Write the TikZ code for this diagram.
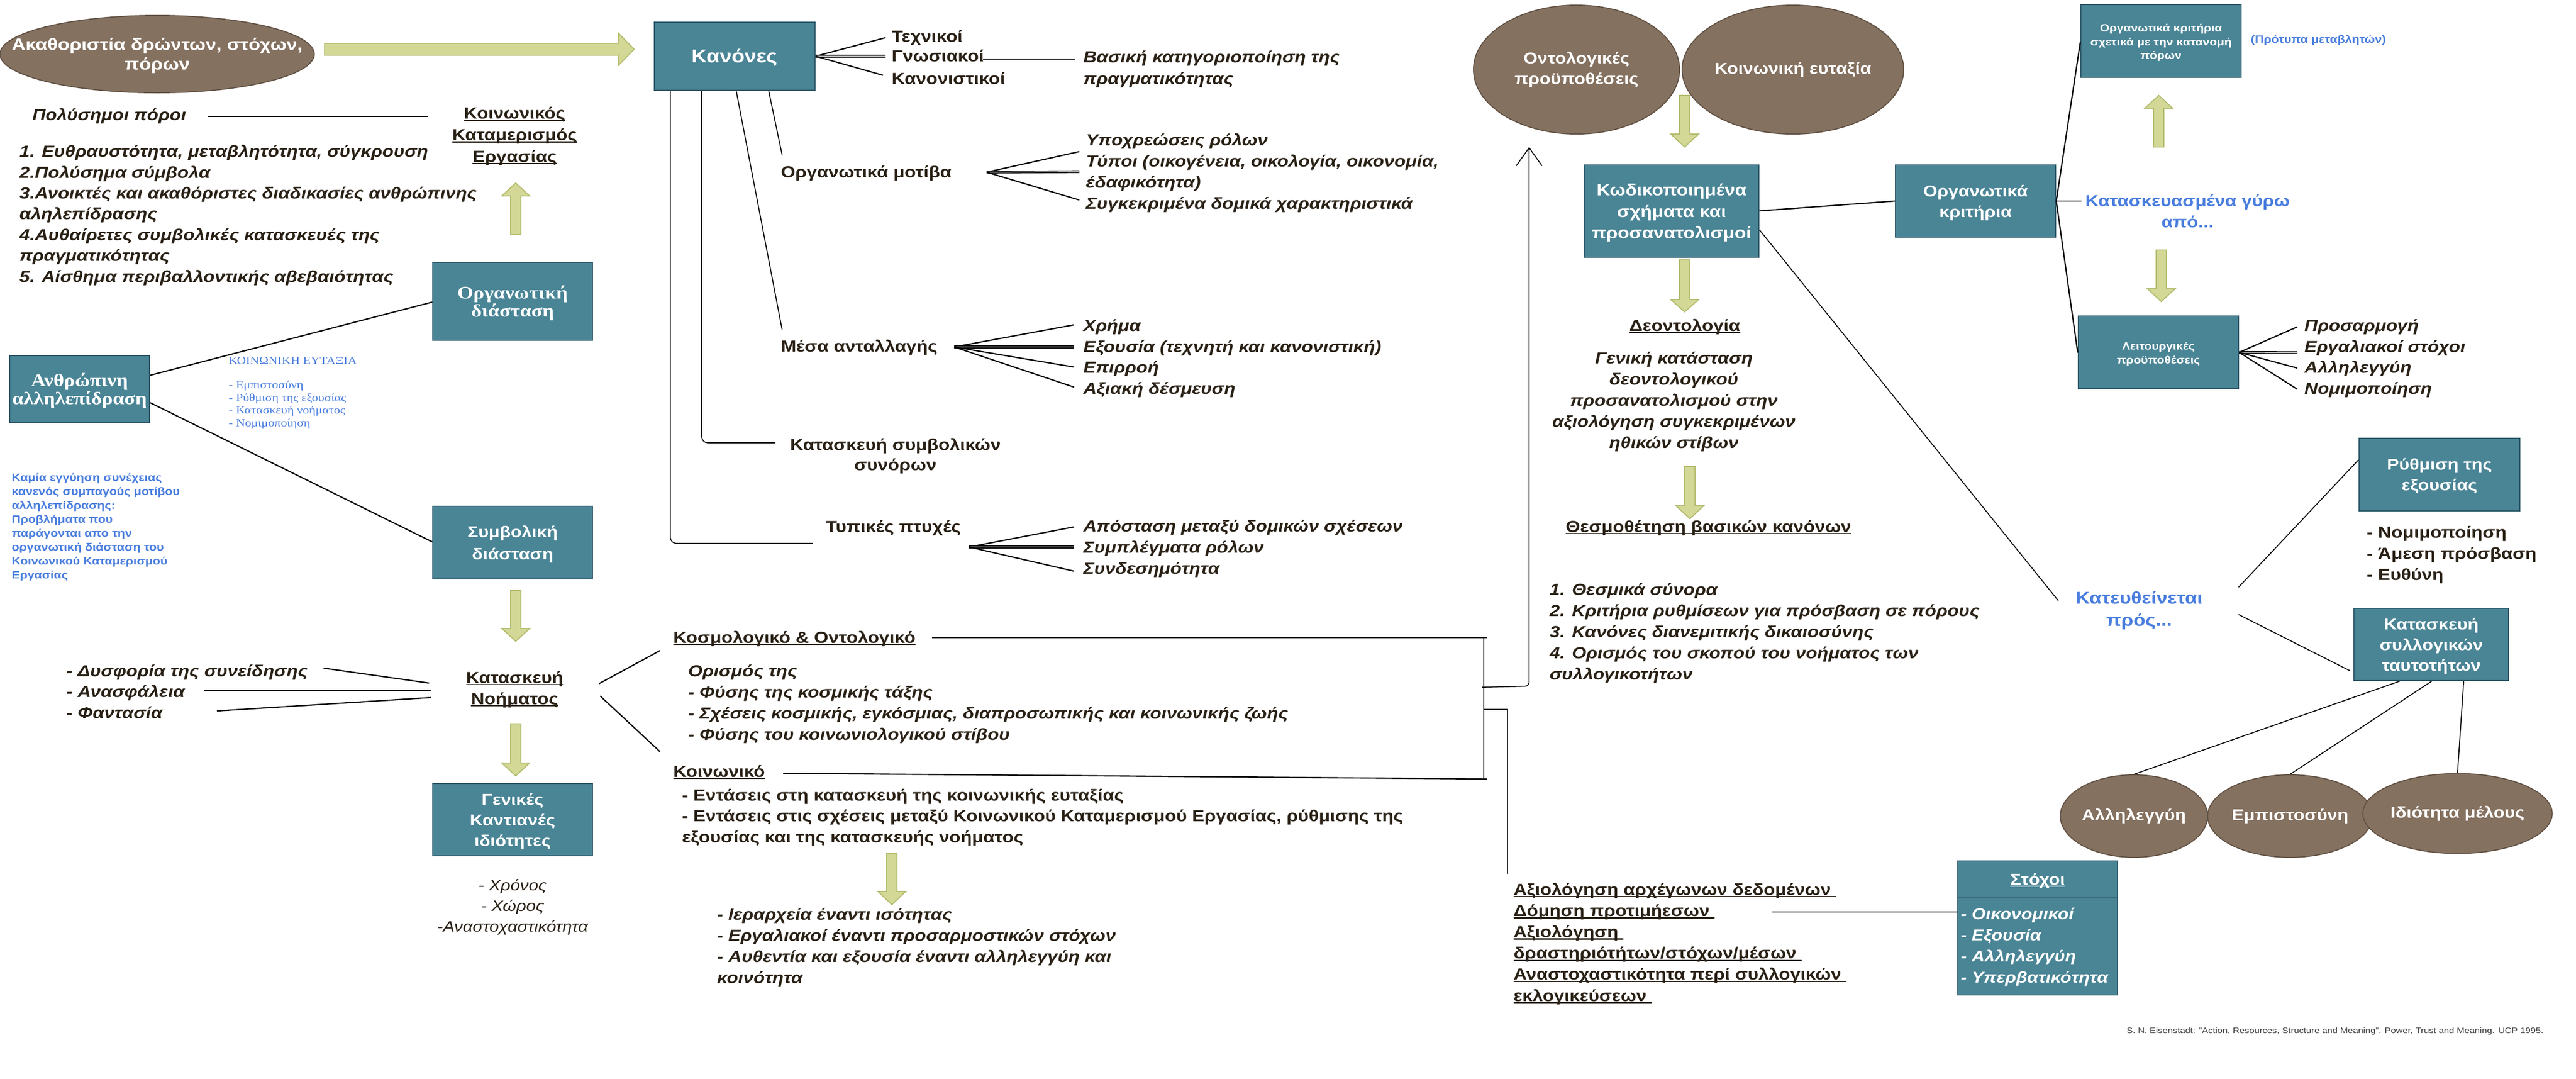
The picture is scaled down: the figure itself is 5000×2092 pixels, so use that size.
\documentclass[tikz,border=0pt]{standalone}
\usepackage{fontspec}
\setmainfont{Liberation Sans}[FakeStretch=1.15]
\newfontfamily\timesf{Liberation Serif}[FakeStretch=1.15]
\usetikzlibrary{calc,fit,arrows.meta,shapes.geometric}
\definecolor{tealA}{RGB}{74,133,150}
\definecolor{tealB}{RGB}{44,88,104}
\definecolor{brownA}{RGB}{133,113,96}
\definecolor{brownB}{RGB}{98,82,68}
\definecolor{greenA}{RGB}{211,216,150}
\definecolor{greenB}{RGB}{178,188,108}
\definecolor{ink}{RGB}{42,33,22}
\definecolor{blueA}{RGB}{74,126,222}
\newcommand\fsz[2]{\fontsize{#1}{#2}\selectfont}
\newcommand\ulx[1]{\setbox0\hbox{#1}\rlap{\vrule width\wd0 height -0.5pt depth 1.1pt}\box0}
\newcommand\BlockV[4]{\filldraw[garr] ({#1-10},#2) -- ({#1+10},#2) -- ({#1+10},#3) -- ({#1+27},#3) -- (#1,#4) -- ({#1-27},#3) -- ({#1-10},#3) -- cycle;}
\begin{document}
\begin{tikzpicture}[x=0.25pt,y=-0.25pt,
  txt/.style={inner sep=0pt, text=ink, font=\bfseries\fsz{7.8pt}{10.1pt}},
  txti/.style={inner sep=0pt, text=ink, font=\bfseries\itshape\fsz{7.8pt}{10.1pt}},
  L/.style={align=left, anchor=base west},
  C/.style={align=center, anchor=base},
  bx/.style={rectangle, draw=tealB, fill=tealA, line width=0.6pt, inner sep=0pt},
  bxl/.style={inner sep=0pt, text=white, align=center, anchor=center, yshift=-0.8pt, font=\bfseries\fsz{7.6pt}{10pt}},
  bxls/.style={bxl, font=\bfseries\fsz{5.1pt}{6.6pt}},
  bxlt/.style={bxl, font=\timesf\bfseries\fsz{8.6pt}{8.75pt}},
  el/.style={ellipse, draw=brownB, fill=brownA, line width=0.5pt, inner sep=0pt, text=white, align=center, font=\bfseries\fsz{7.6pt}{10pt}},
  ln/.style={draw=black, line width=0.6pt},
  lnt/.style={draw=black, line width=0.45pt},
  dbl/.style={draw=black, double=gray!60, double distance=0.5pt, line width=0.4pt},
  garr/.style={fill=greenA, draw=greenB, line width=0.5pt},
  blu/.style={inner sep=0pt, text=blueA, font=\bfseries\fsz{5.2pt}{6.75pt}},
]
\path[use as bounding box, fill=white] (0,0) rectangle (5000,2092);

% ---------------- left column
\node[el, minimum width=152.5pt, minimum height=37.5pt] (akath) at (305,105) {};
\node[bxl, yshift=0pt, font=\bfseries\fsz{8.1pt}{9.6pt}] (akathl) at (akath.center) {Ακαθοριστία δρώντων, στόχων,\\πόρων};
\filldraw[garr] (630,84) -- (1200,84) -- (1200,64) -- (1231,95.5) -- (1200,127) -- (1200,107) -- (630,107) -- cycle;
\node[bx, fit={(1270,43)(1582,175)}] (kan) {};
\node[bxl, font=\bfseries\fsz{9pt}{10pt}] (kanl) at (kan.center) {Κανόνες};

\node[txti, L] (polys) at (62,233) {Πολύσημοι πόροι};
\node[txt, C, font=\bfseries\fsz{7.8pt}{10.4pt}] (koinkat) at (999,314) {\ulx{Κοινωνικός}\\\ulx{Καταμερισμός}\\\ulx{Εργασίας}};
\draw[ln] (404,226) -- (831,226);
\node[txti, L] (list) at (37,547) {1. Ευθραυστότητα, μεταβλητότητα, σύγκρουση\\2.Πολύσημα σύμβολα\\3.Ανοικτές και ακαθόριστες διαδικασίες ανθρώπινης\\αληλεπίδρασης\\4.Αυθαίρετες συμβολικές κατασκευές της\\πραγματικότητας\\5. Αίσθημα περιβαλλοντικής αβεβαιότητας};
\BlockV{1001}{455}{380}{355}

\node[bx, fit={(840,509)(1150,660)}] (org) {};
\node[bxlt] (orgl) at (org.center) {Οργανωτική\\διάσταση};
\node[bx, fit={(19,690)(290,820)}] (anthr) {};
\node[bxlt] (anthrl) at (anthr.center) {Ανθρώπινη\\αλληλεπίδραση};
\node[bx, fit={(840,982)(1150,1123)}] (symb) {};
\node[bxl, font=\bfseries\fsz{7.6pt}{10.75pt}] (symbl) at (symb.center) {Συμβολική\\διάσταση};
\draw[ln] (anthr.east |- 0,728) -- (org.west |- 0,586);
\draw[ln] (anthr.east |- 0,781) -- (symb.west |- 0,1051);

\node[inner sep=0pt, L, text=blueA, font=\timesf\fsz{5.3pt}{6.1pt}] (eutax) at (443,827) {ΚΟΙΝΩΝΙΚΗ ΕΥΤΑΞΙΑ\\[5.65pt]- Εμπιστοσύνη\\- Ρύθμιση της εξουσίας\\- Κατασκευή νοήματος\\- Νομιμοποίηση};
\node[blu, L] (kamia) at (22,1122) {Καμία εγγύηση συνέχειας\\κανενός συμπαγούς μοτίβου\\αλληλεπίδρασης:\\Προβλήματα που\\παράγονται απο την\\οργανωτική διάσταση του\\Κοινωνικού Καταμερισμού\\Εργασίας};

\BlockV{1001}{1145}{1219}{1244}
\node[txt, C, font=\bfseries\fsz{7.8pt}{10.25pt}] (katn) at (999,1366) {\ulx{Κατασκευή}\\\ulx{Νοήματος}};
\node[txti, L] (dysf) at (128,1393) {- Δυσφορία της συνείδησης\\- Ανασφάλεια\\- Φαντασία};
\draw[ln] (628,1296) -- (833,1325);
\draw[ln] (396,1339) -- (836,1339);
\draw[ln] (421,1379) -- (837,1353);
\BlockV{1001}{1404}{1480}{1505}
\node[bx, fit={(840,1520)(1150,1660)}] (gen) {};
\node[bxl] (genl) at (gen.center) {Γενικές\\Καντιανές\\ιδιότητες};
\node[inner sep=0pt, C, text=ink, font=\itshape\fsz{7.3pt}{10pt}] (xron) at (995,1807) {- Χρόνος\\- Χώρος\\-Αναστοχαστικότητα};

% ---------------- Κανόνες branch
\node[txt, L] (texn) at (1730,81) {Τεχνικοί};
\node[txt, L] (gnos) at (1730,119) {Γνωσιακοί};
\node[txt, L] (kanon) at (1730,163) {Κανονιστικοί};
\draw[ln] (kan.east) -- (1719,73);
\draw[dbl] (kan.east) -- (1719,109);
\draw[ln] (kan.east) -- (1714,146);
\node[txti, L, font=\bfseries\itshape\fsz{7.8pt}{10.5pt}] (vas) at (2102,163) {Βασική κατηγοριοποίηση της\\πραγματικότητας};
\draw[ln] (1908,116) -- (2087,116);

\node[txt, L] (orgmot) at (1515,344) {Οργανωτικά μοτίβα};
\coordinate (fo) at (1915,334);
\draw[ln] (fo) -- (2095,294);
\draw[dbl] (fo) -- (2095,333);
\draw[ln] (fo) -- (2095,388);
\node[txti, L, font=\bfseries\itshape\fsz{7.8pt}{10.2pt}] (orgit) at (2107,405) {Υποχρεώσεις ρόλων\\Τύποι (οικογένεια, οικολογία, οικονομία,\\έδαφικότητα)\\Συγκεκριμένα δομικά χαρακτηριστικά};

\node[txt, L] (mesa) at (1515,682) {Μέσα ανταλλαγής};
\coordinate (fm) at (1852,673);
\draw[ln] (fm) -- (2085,630);
\draw[dbl] (fm) -- (2085,673);
\draw[ln] (fm) -- (2085,712);
\draw[ln] (fm) -- (2085,751);
\node[txti, L] (mesait) at (2102,764) {Χρήμα\\Εξουσία (τεχνητή και κανονιστική)\\Επιρροή\\Αξιακή δέσμευση};

\node[txt, C, font=\bfseries\fsz{7.8pt}{9.75pt}] (katsymb) at (1738,912) {Κατασκευή συμβολικών\\συνόρων};
\node[txt, L] (typ) at (1602,1032) {Τυπικές πτυχές};
\coordinate (ft) at (1881,1061);
\draw[ln] (ft) -- (2085,1022);
\draw[dbl] (ft) -- (2085,1061);
\draw[ln] (ft) -- (2085,1108);
\node[txti, L, font=\bfseries\itshape\fsz{7.8pt}{10.25pt}] (typit) at (2102,1113) {Απόσταση μεταξύ δομικών σχέσεων\\Συμπλέγματα ρόλων\\Συνδεσημότητα};

\draw[lnt] (kan.south -| 1492,0) -- (1518,300);
\draw[lnt] (kan.south -| 1429,0) -- (1518,639);
\draw[lnt, rounded corners=3pt] (kan.south -| 1362,0) -- (1362,859) -- (1505,859);
\draw[lnt, rounded corners=3pt] (kan.south -| 1301,0) -- (1301,1054) -- (1577,1054);

% ---------------- middle bottom
\node[txt, L] (kosm) at (1306,1247) {\ulx{Κοσμολογικό \& Οντολογικό}};
\node[txti, L, font=\bfseries\itshape\fsz{7.8pt}{10.2pt}] (oris) at (1335,1435) {Ορισμός της\\- Φύσης της κοσμικής τάξης\\- Σχέσεις κοσμικής, εγκόσμιας, διαπροσωπικής και κοινωνικής ζωής\\- Φύσης του κοινωνιολογικού στίβου};
\node[txt, L] (koin) at (1306,1507) {\ulx{Κοινωνικό}};
\node[txt, L] (ent) at (1323,1634) {- Εντάσεις στη κατασκευή της κοινωνικής ευταξίας\\- Εντάσεις στις σχέσεις μεταξύ Κοινωνικού Καταμερισμού Εργασίας, ρύθμισης της\\εξουσίας και της κατασκευής νοήματος};
\BlockV{1731}{1655}{1729}{1755}
\node[txti, L, font=\bfseries\itshape\fsz{7.8pt}{10.2pt}] (ier) at (1391,1907) {- Ιεραρχεία έναντι ισότητας\\- Εργαλιακοί έναντι προσαρμοστικών στόχων\\- Αυθεντία και εξουσία έναντι αλληλεγγύη και\\κοινότητα};

\draw[ln] (1163,1326) -- (1281,1262);
\draw[ln] (1165,1350) -- (1281,1458);
\coordinate (brtop) at (2880,1237);
\coordinate (brbot) at (2880,1511);
\draw[ln] (1809,1237) -- (2886,1237);
\draw[ln] (1520,1500) -- (2886,1511);
\draw[lnt] (brtop) -- (brbot);
\draw[lnt, rounded corners=2pt, -{Straight Barb[length=8.75pt, width=12.5pt]}] (2876,1333) -- (2968,1331) -- (2968,285);
\draw[lnt] (2880,1376) -- (2926,1376) -- (2926,1695);

% ---------------- right middle
\node[el, minimum width=100pt, minimum height=62.5pt] (ont) at (3060,135) {Οντολογικές\\προϋποθέσεις};
\node[el, minimum width=100pt, minimum height=62.5pt] (koinel) at (3480,135) {Κοινωνική ευταξία};
\BlockV{3270}{185}{260}{285}
\node[bx, fit={(3075,320)(3414,499)}] (kod) {};
\node[bxl, font=\bfseries\fsz{7.9pt}{10.4pt}] (kodl) at (kod.center) {Κωδικοποιημένα\\σχήματα και\\προσανατολισμοί};
\BlockV{3270}{504}{581}{605}
\node[txt, C] (deont) at (3270,642) {\ulx{Δεοντολογία}};
\node[txti, C, font=\bfseries\itshape\fsz{7.8pt}{10.25pt}] (genk) at (3249,869) {Γενική κατάσταση\\δεοντολογικού\\προσανατολισμού στην\\αξιολόγηση συγκεκριμένων\\ηθικών στίβων};
\BlockV{3280}{905}{981}{1006}
\node[txt, C] (thesm) at (3316,1032) {\ulx{Θεσμοθέτηση βασικών κανόνων}};
\node[txti, L, font=\bfseries\itshape\fsz{7.8pt}{10.25pt}] (list4) at (3007,1318) {1. Θεσμικά σύνορα\\2. Κριτήρια ρυθμίσεων για πρόσβαση σε πόρους\\3. Κανόνες διανεμιτικής δικαιοσύνης\\4. Ορισμός του σκοπού του νοήματος των\\συλλογικοτήτων};

\node[bx, fit={(3679,320)(3990,460)}] (orgkr) {};
\node[bxl] (orgkrl) at (orgkr.center) {Οργανωτικά\\κριτήρια};
\draw[ln] (kod.east |- 0,409) -- (orgkr.west |- 0,390);
\draw[lnt] (kod.east |- 0,446) -- (3995,1165);

\node[bx, fit={(4039,9)(4350,150)}] (orgkr2) {};
\node[bxls] (orgkr2l) at (orgkr2.center) {Οργανωτικά κριτήρια\\σχετικά με την κατανομή\\πόρων};
\node[blu, L, font=\bfseries\fsz{5.2pt}{6pt}] (prot) at (4368,83) {(Πρότυπα μεταβλητών)};
\BlockV{4190}{285}{210}{185}
\node[blu, C, font=\bfseries\fsz{7.8pt}{10.25pt}] (kataskeu) at (4246,441) {Κατασκευασμένα γύρω\\από...};
\BlockV{4195}{485}{560}{585}
\node[bx, fit={(4034,613)(4345,754)}] (leit) {};
\node[bxls] (leitl) at (leit.center) {Λειτουργικές\\προϋποθέσεις};
\draw[ln] (orgkr.east) -- (orgkr2.west |- 0,82);
\draw[ln] (orgkr.east) -- (4040,390);
\draw[ln] (orgkr.east) -- (leit.west |- 0,684);

\draw[ln] (leit.east) -- (4459,634);
\draw[dbl] (leit.east) -- (4459,684);
\draw[ln] (leit.east) -- (4459,714);
\draw[ln] (leit.east) -- (4459,755);
\node[txti, L] (leitit) at (4472,764) {Προσαρμογή\\Εργαλιακοί στόχοι\\Αλληλεγγύη\\Νομιμοποίηση};

\node[blu, C, font=\bfseries\fsz{8.3pt}{10.75pt}] (kateu) at (4152,1214) {Κατευθείνεται\\πρός...};
\node[bx, fit={(4579,850)(4891,991)}] (rythm) {};
\node[bxl] (rythml) at (rythm.center) {Ρύθμιση της\\εξουσίας};
\node[txt, L, font=\bfseries\fsz{7.8pt}{10.25pt}] (rythit) at (4593,1125) {- Νομιμοποίηση\\- Άμεση πρόσβαση\\- Ευθύνη};
\node[bx, fit={(4569,1180)(4869,1320)}] (katsyll) {};
\node[bxl] (katsylll) at (katsyll.center) {Κατασκευή\\συλλογικών\\ταυτοτήτων};
\draw[lnt] (4345,1139) -- (rythm.west |- 0,892);
\draw[lnt] (4345,1192) -- (4561,1301);

\node[el, minimum width=70pt, minimum height=40pt] (allil) at (4142,1583) {Αλληλεγγύη};
\node[el, minimum width=72.75pt, minimum height=40pt] (empist) at (4445,1583) {Εμπιστοσύνη};
\node[el, minimum width=79.75pt, minimum height=38.75pt] (idiot) at (4770,1578) {Ιδιότητα μέλους};
\draw[lnt] (katsyll.south -| 4658,0) -- (allil.north);
\draw[lnt] (katsyll.south -| 4720,0) -- (empist.north);
\draw[lnt] (katsyll.south -| 4782,0) -- (idiot.north);

% ---------------- Στόχοι
\node[bx, fit={(3800,1670)(4110,1930)}] (stox) {};
\draw[draw=tealB, line width=0.6pt] (stox.west |- 0,1740) -- (stox.east |- 0,1740);
\node[inner sep=0pt, C, text=white, font=\bfseries\fsz{7.6pt}{10pt}] (stoxh) at (3955,1716) {\ulx{Στόχοι}};
\node[inner sep=0pt, L, text=white, font=\bfseries\itshape\fsz{7.6pt}{10.25pt}] (stoxit) at (3805,1906) {- Οικονομικοί\\- Εξουσία\\- Αλληλεγγύη\\- Υπερβατικότητα};
\node[txt, L, font=\bfseries\fsz{7.8pt}{10.3pt}] (axiol) at (2937,1942) {\ulx{Αξιολόγηση αρχέγωνων δεδομένων\ }\\\ulx{Δόμηση προτιμήεσων\ }\\\ulx{Αξιολόγηση\ }\\\ulx{δραστηριότήτων/στόχων/μέσων\ }\\\ulx{Αναστοχαστικότητα περί συλλογικών\ }\\\ulx{εκλογικεύσεων\ }};
\draw[ln] (3439,1769) -- (stox.west |- 0,1769);

\node[inner sep=0pt, L, text=black!75, font=\fsz{3.9pt}{4pt}] (cite) at (4127,2004) {S. N. Eisenstadt: "Action, Resources, Structure and Meaning". Power, Trust and Meaning. UCP 1995.};
\end{tikzpicture}
\end{document}
